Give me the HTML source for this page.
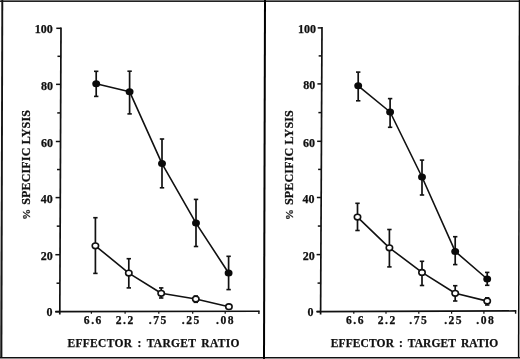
<!DOCTYPE html>
<html><head><meta charset="utf-8"><title>Effector : Target Ratio</title>
<style>
html,body{margin:0;padding:0;background:#fff;}
body{width:520px;height:359px;overflow:hidden;}
svg{display:block;}
text{font-family:"Liberation Serif","Times New Roman",serif;font-weight:bold;fill:#111;stroke:#111;stroke-width:0.25px;}
</style></head><body>
<svg width="520" height="359" viewBox="0 0 520 359">
<rect x="0" y="0" width="520" height="359" fill="#fff"/>
<rect x="0" y="0" width="520" height="1" fill="#6e6e6e"/>
<rect x="0" y="1" width="520" height="1" fill="#222"/>
<defs><linearGradient id="lg" x1="0" y1="0" x2="0" y2="1"><stop offset="0" stop-color="#fff"/><stop offset="0.55" stop-color="#f4f4f4"/><stop offset="1" stop-color="#8a8a8a"/></linearGradient></defs>
<rect x="0" y="2" width="1" height="356" fill="url(#lg)"/>
<line x1="2.3" y1="0" x2="1.4" y2="359" stroke="#151515" stroke-width="1.9"/>
<line x1="519.5" y1="0" x2="518.6" y2="359" stroke="#0a0a0a" stroke-width="1.5"/>
<rect x="0" y="357" width="520" height="1" fill="#111"/>
<rect x="0" y="358" width="520" height="1" fill="#8a8a8a"/>
<line x1="265" y1="0" x2="264" y2="359" stroke="#000" stroke-width="2"/>
<g fill="none" stroke="#111" stroke-width="1.7" stroke-linecap="butt">
<line x1="61" y1="27.5" x2="59.8" y2="314.5"/>
<line x1="55.5" y1="311.6" x2="259.5" y2="311.3" stroke-width="1.6"/>
<line x1="258.9" y1="310.8" x2="258.9" y2="314.1" stroke-width="1.4"/>
<line x1="91.4" y1="311" x2="91.4" y2="313.8" stroke-width="1.2"/>
<line x1="125.1" y1="311" x2="125.1" y2="313.8" stroke-width="1.2"/>
<line x1="158.8" y1="311" x2="158.8" y2="313.8" stroke-width="1.2"/>
<line x1="192.7" y1="311" x2="192.7" y2="313.8" stroke-width="1.2"/>
<line x1="225.2" y1="311" x2="225.2" y2="313.8" stroke-width="1.2"/>
<line x1="55.11" y1="311.7" x2="59.81" y2="311.7" stroke-width="1.5"/>
<line x1="56.53" y1="283.2" x2="59.93" y2="283.2" stroke-width="1.5"/>
<line x1="55.35" y1="254.7" x2="60.05" y2="254.7" stroke-width="1.5"/>
<line x1="56.77" y1="226.15" x2="60.17" y2="226.15" stroke-width="1.5"/>
<line x1="55.59" y1="197.6" x2="60.29" y2="197.6" stroke-width="1.5"/>
<line x1="57.01" y1="169.55" x2="60.41" y2="169.55" stroke-width="1.5"/>
<line x1="55.82" y1="141.5" x2="60.52" y2="141.5" stroke-width="1.5"/>
<line x1="57.24" y1="112.92" x2="60.64" y2="112.92" stroke-width="1.5"/>
<line x1="56.06" y1="84.35" x2="60.76" y2="84.35" stroke-width="1.5"/>
<line x1="57.48" y1="56.32" x2="60.88" y2="56.32" stroke-width="1.5"/>
<line x1="56.3" y1="28.3" x2="61" y2="28.3" stroke-width="1.5"/>
</g>
<text x="52.6" y="315.7" font-size="12" text-anchor="end">0</text>
<text x="52.7" y="259.9" font-size="12" text-anchor="end">20</text>
<text x="52.7" y="202.7" font-size="12" text-anchor="end">40</text>
<text x="52.9" y="146.9" font-size="12" text-anchor="end">60</text>
<text x="53.1" y="89.7" font-size="12" text-anchor="end">80</text>
<text x="52.7" y="32.8" font-size="12" text-anchor="end">100</text>
<text x="93.35" y="323.8" font-size="11.6" text-anchor="middle" letter-spacing="1.5">6.6</text>
<text x="125.25" y="323.8" font-size="11.6" text-anchor="middle" letter-spacing="1.5">2.2</text>
<text x="158.35" y="323.8" font-size="11.6" text-anchor="middle" letter-spacing="1.5">.75</text>
<text x="191.25" y="323.8" font-size="11.6" text-anchor="middle" letter-spacing="1.5">.25</text>
<text x="225.55" y="323.8" font-size="11.6" text-anchor="middle" letter-spacing="1.5">.08</text>
<text transform="translate(29.9 219.8) rotate(-90)" font-size="12" letter-spacing="0.17"><tspan font-size="10.8">%</tspan><tspan dx="4.0">SPECIFIC LYSIS</tspan></text>
<text x="67.4" y="346.8" font-size="11.5" word-spacing="2" textLength="172" lengthAdjust="spacing">EFFECTOR : TARGET RATIO</text>
<g fill="none" stroke="#111" stroke-width="1.6" stroke-linejoin="round">
<polyline points="96.2,83.8 129.6,91.7 162,163.6 196,223.1 228.6,273"/>
<polyline points="95.4,245.8 128.8,273.1 161.2,293.3 195.8,299 228.9,306.7"/>
<line x1="96.2" y1="71.3" x2="96.2" y2="96.4" stroke-width="1.7"/>
<line x1="94" y1="71.3" x2="98.4" y2="71.3" stroke-width="1.6"/>
<line x1="94" y1="96.4" x2="98.4" y2="96.4" stroke-width="1.6"/>
<line x1="129.6" y1="71.2" x2="129.6" y2="113.9" stroke-width="1.7"/>
<line x1="127.4" y1="71.2" x2="131.8" y2="71.2" stroke-width="1.6"/>
<line x1="127.4" y1="113.9" x2="131.8" y2="113.9" stroke-width="1.6"/>
<line x1="162" y1="139" x2="162" y2="187.8" stroke-width="1.7"/>
<line x1="159.8" y1="139" x2="164.2" y2="139" stroke-width="1.6"/>
<line x1="159.8" y1="187.8" x2="164.2" y2="187.8" stroke-width="1.6"/>
<line x1="196" y1="199.4" x2="196" y2="246.5" stroke-width="1.7"/>
<line x1="193.8" y1="199.4" x2="198.2" y2="199.4" stroke-width="1.6"/>
<line x1="193.8" y1="246.5" x2="198.2" y2="246.5" stroke-width="1.6"/>
<line x1="228.6" y1="256.3" x2="228.6" y2="289.6" stroke-width="1.7"/>
<line x1="226.4" y1="256.3" x2="230.8" y2="256.3" stroke-width="1.6"/>
<line x1="226.4" y1="289.6" x2="230.8" y2="289.6" stroke-width="1.6"/>
<line x1="95.4" y1="217.7" x2="95.4" y2="273.4" stroke-width="1.7"/>
<line x1="93.2" y1="217.7" x2="97.6" y2="217.7" stroke-width="1.6"/>
<line x1="93.2" y1="273.4" x2="97.6" y2="273.4" stroke-width="1.6"/>
<line x1="128.8" y1="258.7" x2="128.8" y2="287.9" stroke-width="1.7"/>
<line x1="126.6" y1="258.7" x2="131" y2="258.7" stroke-width="1.6"/>
<line x1="126.6" y1="287.9" x2="131" y2="287.9" stroke-width="1.6"/>
<line x1="161.2" y1="287.9" x2="161.2" y2="298" stroke-width="1.7"/>
<line x1="159" y1="287.9" x2="163.4" y2="287.9" stroke-width="1.6"/>
<line x1="159" y1="298" x2="163.4" y2="298" stroke-width="1.6"/>
<line x1="195.8" y1="296" x2="195.8" y2="302.3" stroke-width="1.7"/>
<line x1="193.6" y1="296" x2="198" y2="296" stroke-width="1.6"/>
<line x1="193.6" y1="302.3" x2="198" y2="302.3" stroke-width="1.6"/>
</g>
<ellipse cx="96.2" cy="83.8" rx="3.95" ry="3.5" fill="#0a0a0a"/>
<ellipse cx="129.6" cy="91.7" rx="3.95" ry="3.5" fill="#0a0a0a"/>
<ellipse cx="162" cy="163.6" rx="3.95" ry="3.5" fill="#0a0a0a"/>
<ellipse cx="196" cy="223.1" rx="3.95" ry="3.5" fill="#0a0a0a"/>
<ellipse cx="228.6" cy="273" rx="3.95" ry="3.5" fill="#0a0a0a"/>
<ellipse cx="95.4" cy="245.8" rx="3.2" ry="2.8" fill="#fff" stroke="#111" stroke-width="1.6"/>
<ellipse cx="128.8" cy="273.1" rx="3.2" ry="2.8" fill="#fff" stroke="#111" stroke-width="1.6"/>
<ellipse cx="161.2" cy="293.3" rx="3.2" ry="2.8" fill="#fff" stroke="#111" stroke-width="1.6"/>
<ellipse cx="195.8" cy="299" rx="3.2" ry="2.8" fill="#fff" stroke="#111" stroke-width="1.6"/>
<ellipse cx="228.9" cy="306.7" rx="3.2" ry="2.8" fill="#fff" stroke="#111" stroke-width="1.6"/>
<g fill="none" stroke="#111" stroke-width="1.7" stroke-linecap="butt">
<line x1="322" y1="27.1" x2="320.6" y2="314.5"/>
<line x1="316.8" y1="311.6" x2="516.2" y2="310.9" stroke-width="1.6"/>
<line x1="515.6" y1="310.4" x2="515.6" y2="313.7" stroke-width="1.4"/>
<line x1="353.8" y1="311" x2="353.8" y2="313.8" stroke-width="1.2"/>
<line x1="386" y1="311" x2="386" y2="313.8" stroke-width="1.2"/>
<line x1="418.8" y1="311" x2="418.8" y2="313.8" stroke-width="1.2"/>
<line x1="451.6" y1="311" x2="451.6" y2="313.8" stroke-width="1.2"/>
<line x1="483.9" y1="311" x2="483.9" y2="313.8" stroke-width="1.2"/>
<line x1="316.31" y1="311.6" x2="320.61" y2="311.6" stroke-width="1.5"/>
<line x1="317.55" y1="283.1" x2="320.75" y2="283.1" stroke-width="1.5"/>
<line x1="316.59" y1="254.6" x2="320.89" y2="254.6" stroke-width="1.5"/>
<line x1="317.83" y1="226.05" x2="321.03" y2="226.05" stroke-width="1.5"/>
<line x1="316.87" y1="197.5" x2="321.17" y2="197.5" stroke-width="1.5"/>
<line x1="318.11" y1="169.4" x2="321.31" y2="169.4" stroke-width="1.5"/>
<line x1="317.14" y1="141.3" x2="321.44" y2="141.3" stroke-width="1.5"/>
<line x1="318.38" y1="112.6" x2="321.58" y2="112.6" stroke-width="1.5"/>
<line x1="317.42" y1="83.9" x2="321.72" y2="83.9" stroke-width="1.5"/>
<line x1="318.66" y1="55.9" x2="321.86" y2="55.9" stroke-width="1.5"/>
<line x1="317.7" y1="27.9" x2="322" y2="27.9" stroke-width="1.5"/>
</g>
<text x="313.5" y="316" font-size="12" text-anchor="end">0</text>
<text x="314.7" y="259.7" font-size="12" text-anchor="end">20</text>
<text x="314.5" y="202.7" font-size="12" text-anchor="end">40</text>
<text x="314.9" y="147.2" font-size="12" text-anchor="end">60</text>
<text x="315.3" y="89.4" font-size="12" text-anchor="end">80</text>
<text x="316.1" y="32.7" font-size="12" text-anchor="end">100</text>
<text x="355.45" y="323.8" font-size="11.6" text-anchor="middle" letter-spacing="1.5">6.6</text>
<text x="387.25" y="323.8" font-size="11.6" text-anchor="middle" letter-spacing="1.5">2.2</text>
<text x="418.75" y="323.8" font-size="11.6" text-anchor="middle" letter-spacing="1.5">.75</text>
<text x="453.65" y="323.8" font-size="11.6" text-anchor="middle" letter-spacing="1.5">.25</text>
<text x="485.75" y="323.8" font-size="11.6" text-anchor="middle" letter-spacing="1.5">.08</text>
<text transform="translate(293.1 220) rotate(-90)" font-size="12" letter-spacing="0.17"><tspan font-size="10.8">%</tspan><tspan dx="4.0">SPECIFIC LYSIS</tspan></text>
<text x="330.8" y="346.8" font-size="11.5" word-spacing="2" textLength="167.4" lengthAdjust="spacing">EFFECTOR : TARGET RATIO</text>
<g fill="none" stroke="#111" stroke-width="1.6" stroke-linejoin="round">
<polyline points="358.2,85.8 390.1,112 422,177 455.2,251.4 487.2,279"/>
<polyline points="357.5,217.1 389.4,247.8 422,272.4 455.2,293.3 487.2,301.1"/>
<line x1="358.2" y1="72.1" x2="358.2" y2="100.8" stroke-width="1.7"/>
<line x1="356" y1="72.1" x2="360.4" y2="72.1" stroke-width="1.6"/>
<line x1="356" y1="100.8" x2="360.4" y2="100.8" stroke-width="1.6"/>
<line x1="390.1" y1="98.6" x2="390.1" y2="127.3" stroke-width="1.7"/>
<line x1="387.9" y1="98.6" x2="392.3" y2="98.6" stroke-width="1.6"/>
<line x1="387.9" y1="127.3" x2="392.3" y2="127.3" stroke-width="1.6"/>
<line x1="422" y1="160.1" x2="422" y2="195" stroke-width="1.7"/>
<line x1="419.8" y1="160.1" x2="424.2" y2="160.1" stroke-width="1.6"/>
<line x1="419.8" y1="195" x2="424.2" y2="195" stroke-width="1.6"/>
<line x1="455.2" y1="236.7" x2="455.2" y2="264.6" stroke-width="1.7"/>
<line x1="453" y1="236.7" x2="457.4" y2="236.7" stroke-width="1.6"/>
<line x1="453" y1="264.6" x2="457.4" y2="264.6" stroke-width="1.6"/>
<line x1="487.2" y1="272.4" x2="487.2" y2="285.3" stroke-width="1.7"/>
<line x1="485" y1="272.4" x2="489.4" y2="272.4" stroke-width="1.6"/>
<line x1="485" y1="285.3" x2="489.4" y2="285.3" stroke-width="1.6"/>
<line x1="357.5" y1="203.3" x2="357.5" y2="230.5" stroke-width="1.7"/>
<line x1="355.3" y1="203.3" x2="359.7" y2="203.3" stroke-width="1.6"/>
<line x1="355.3" y1="230.5" x2="359.7" y2="230.5" stroke-width="1.6"/>
<line x1="389.4" y1="229.5" x2="389.4" y2="266.9" stroke-width="1.7"/>
<line x1="387.2" y1="229.5" x2="391.6" y2="229.5" stroke-width="1.6"/>
<line x1="387.2" y1="266.9" x2="391.6" y2="266.9" stroke-width="1.6"/>
<line x1="422" y1="261.3" x2="422" y2="285.5" stroke-width="1.7"/>
<line x1="419.8" y1="261.3" x2="424.2" y2="261.3" stroke-width="1.6"/>
<line x1="419.8" y1="285.5" x2="424.2" y2="285.5" stroke-width="1.6"/>
<line x1="455.2" y1="285.7" x2="455.2" y2="301" stroke-width="1.7"/>
<line x1="453" y1="285.7" x2="457.4" y2="285.7" stroke-width="1.6"/>
<line x1="453" y1="301" x2="457.4" y2="301" stroke-width="1.6"/>
<line x1="487.2" y1="297.8" x2="487.2" y2="305" stroke-width="1.7"/>
<line x1="485" y1="297.8" x2="489.4" y2="297.8" stroke-width="1.6"/>
<line x1="485" y1="305" x2="489.4" y2="305" stroke-width="1.6"/>
</g>
<ellipse cx="358.2" cy="85.8" rx="3.95" ry="3.5" fill="#0a0a0a"/>
<ellipse cx="390.1" cy="112" rx="3.95" ry="3.5" fill="#0a0a0a"/>
<ellipse cx="422" cy="177" rx="3.95" ry="3.5" fill="#0a0a0a"/>
<ellipse cx="455.2" cy="251.4" rx="3.95" ry="3.5" fill="#0a0a0a"/>
<ellipse cx="487.2" cy="279" rx="3.95" ry="3.5" fill="#0a0a0a"/>
<ellipse cx="357.5" cy="217.1" rx="3.2" ry="2.8" fill="#fff" stroke="#111" stroke-width="1.6"/>
<ellipse cx="389.4" cy="247.8" rx="3.2" ry="2.8" fill="#fff" stroke="#111" stroke-width="1.6"/>
<ellipse cx="422" cy="272.4" rx="3.2" ry="2.8" fill="#fff" stroke="#111" stroke-width="1.6"/>
<ellipse cx="455.2" cy="293.3" rx="3.2" ry="2.8" fill="#fff" stroke="#111" stroke-width="1.6"/>
<ellipse cx="487.2" cy="301.1" rx="3.2" ry="2.8" fill="#fff" stroke="#111" stroke-width="1.6"/>
</svg>
</body></html>
